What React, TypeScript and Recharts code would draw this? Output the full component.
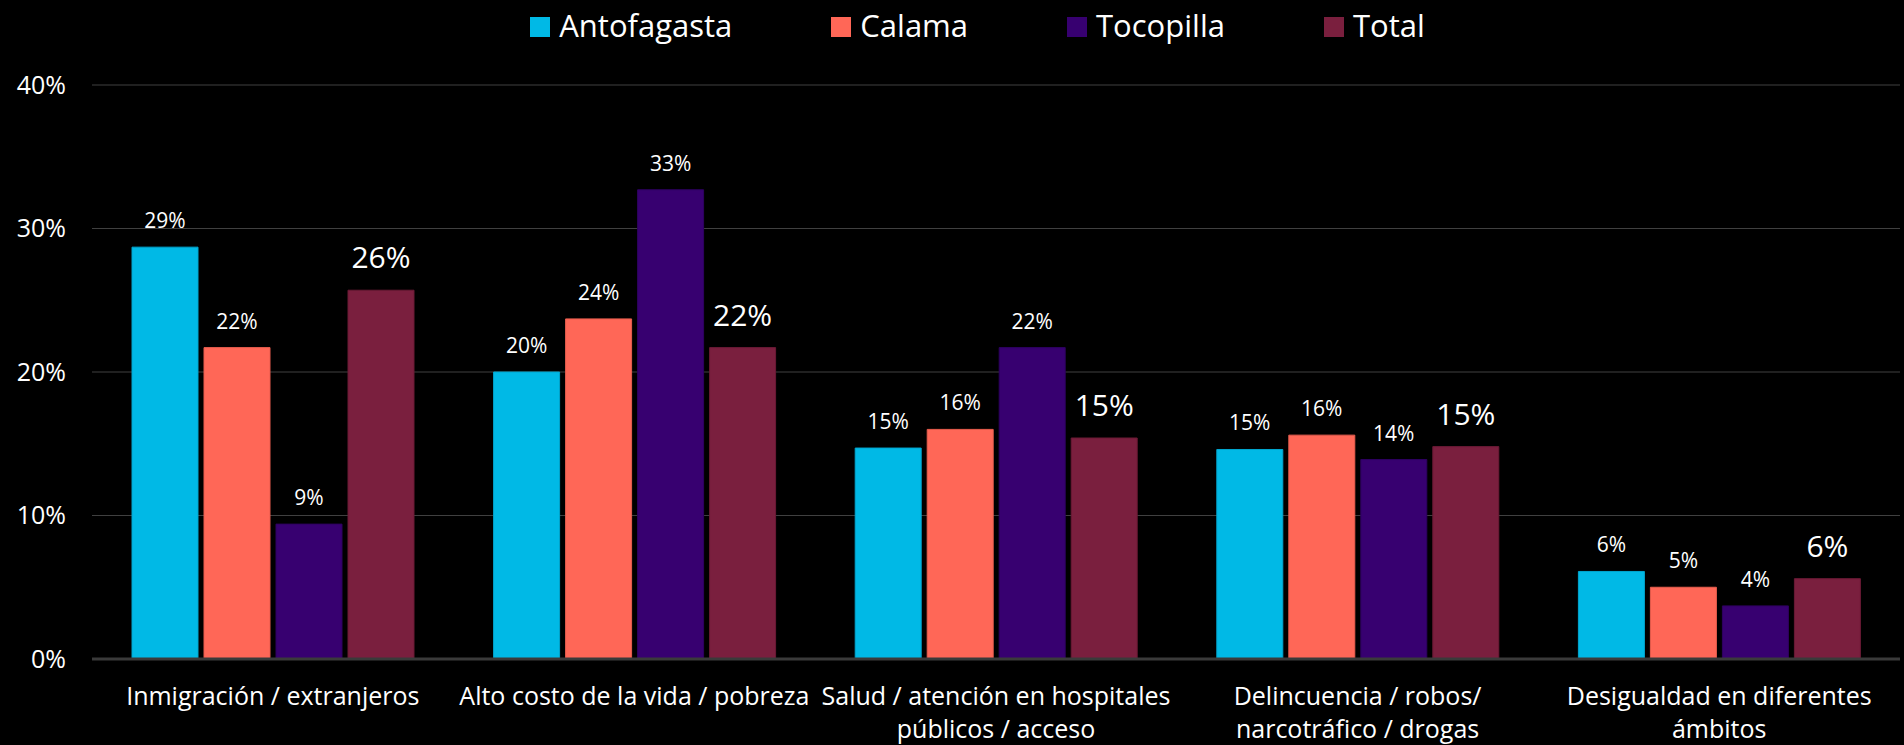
import React from "react";
import { BarChart, Bar, XAxis, YAxis, CartesianGrid, Legend, LabelList } from "recharts";

const categories = [
  "Inmigración / extranjeros",
  "Alto costo de la vida / pobreza",
  "Salud / atención en hospitales públicos / acceso",
  "Delincuencia / robos/ narcotráfico / drogas",
  "Desigualdad en diferentes ámbitos",
];
const categoryLines: string[][] = [
  ["Inmigración / extranjeros"],
  ["Alto costo de la vida / pobreza"],
  ["Salud / atención en hospitales", "públicos / acceso"],
  ["Delincuencia / robos/", "narcotráfico / drogas"],
  ["Desigualdad en diferentes", "ámbitos"],
];
const antofagasta = [0.287, 0.2, 0.147, 0.146, 0.061];
const calama = [0.217, 0.237, 0.16, 0.156, 0.05];
const tocopilla = [0.094, 0.327, 0.217, 0.139, 0.037];
const total = [0.257, 0.217, 0.154, 0.148, 0.056];
const yTicks = [0, 0.1, 0.2, 0.3, 0.4];

const seriesNames = ["Antofagasta", "Calama", "Tocopilla", "Total"];
const seriesKeys = ["antofagasta", "calama", "tocopilla", "total"];
const seriesColors = ["#00B9E6", "#FF6757", "#370070", "#7A1F3E"];
const seriesStrokes = ["#00A6CF", "#E85D4E", "#2E0060", "#6A1A35"];

const data = categories.map((c, i) => ({
  name: c,
  idx: i,
  antofagasta: antofagasta[i],
  calama: calama[i],
  tocopilla: tocopilla[i],
  total: total[i],
}));

const FONT = "'Open Sans', sans-serif";
const pct = (v: number) => `${Math.round(v * 100)}%`;

const makeLabel = (big: boolean) => (props: any) => {
  const { x, y, width, value } = props;
  return (
    <text
      x={Number(x) + Number(width) / 2}
      y={Number(y) - (big ? 22 : 19)}
      textAnchor="middle"
      fill="#FFFFFF"
      fontFamily={FONT}
      fontSize={big ? 30 : 21}
    >
      {pct(Number(value))}
    </text>
  );
};

const XTick = (props: any) => {
  const { x, y, index } = props;
  const lines = categoryLines[index] || [];
  return (
    <g>
      {lines.map((l, k) => (
        <text
          key={k}
          x={x}
          y={y + 46 + k * 33}
          textAnchor="middle"
          fill="#FFFFFF"
          fontFamily={FONT}
          fontSize={25}
        >
          {l}
        </text>
      ))}
    </g>
  );
};

const LegendContent = () => (
  <div
    style={{
      display: "flex",
      justifyContent: "center",
      alignItems: "center",
      width: 1904,
      height: 50,
      paddingLeft: 51,
      boxSizing: "border-box",
      fontFamily: FONT,
      fontSize: 31,
      color: "#FFFFFF",
    }}
  >
    {seriesNames.map((n, i) => (
      <div
        key={n}
        style={{ display: "flex", alignItems: "center", marginLeft: i === 0 ? 0 : 99 }}
      >
        <div style={{ width: 20, height: 20, background: seriesColors[i], marginRight: 9, marginTop: 3 }} />
        <span style={{ lineHeight: "50px" }}>{n}</span>
      </div>
    ))}
  </div>
);

export default function App() {
  return (
    <div
      style={{
        position: "absolute",
        left: 0,
        top: 0,
        width: 1904,
        height: 745,
        background: "#000000",
        overflow: "hidden",
      }}
    >
      <BarChart
        width={1904}
        height={745}
        data={data}
        margin={{ top: 35, right: 4, bottom: 0, left: 0 }}
        barCategoryGap={40}
        barGap={6}
      >
        <Legend
          verticalAlign="top"
          align="center"
          content={LegendContent}
          wrapperStyle={{ top: 0, left: 0, width: 1904, height: 50 }}
        />
        <CartesianGrid vertical={false} stroke="#404040" strokeWidth={1} />
        <XAxis
          dataKey="name"
          height={86}
          tickLine={false}
          axisLine={{ stroke: "#3A3A3A", strokeWidth: 3 }}
          tickSize={0}
          tickMargin={0}
          interval={0}
          tick={<XTick />}
        />
        <YAxis
          width={92}
          domain={[0, 0.4]}
          ticks={yTicks}
          tickFormatter={pct}
          tickLine={false}
          axisLine={false}
          tickSize={0}
          tickMargin={26}
          tick={{ fill: "#FFFFFF", fontFamily: FONT, fontSize: 25 }}
        />
        {seriesKeys.map((k, i) => (
          <Bar
            key={k}
            dataKey={k}
            name={seriesNames[i]}
            fill={seriesColors[i]}
            stroke={seriesStrokes[i]}
            strokeWidth={1}
            isAnimationActive={false}
          >
            <LabelList dataKey={k} content={makeLabel(k === "total")} />
          </Bar>
        ))}
      </BarChart>
    </div>
  );
}
